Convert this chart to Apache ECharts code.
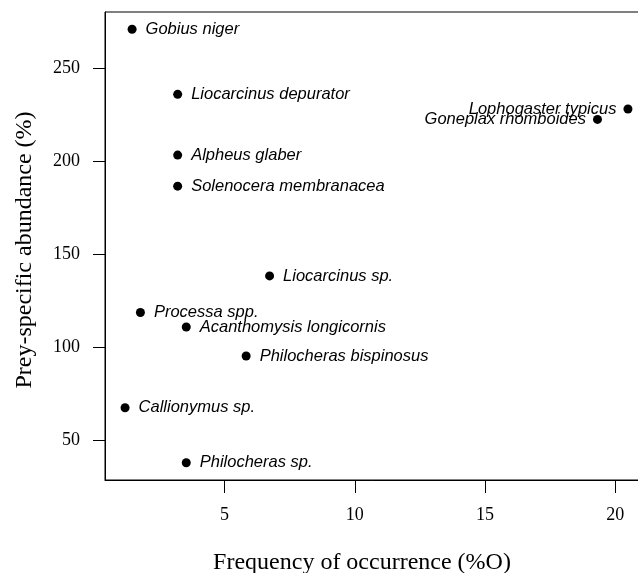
<!DOCTYPE html>
<html>
<head>
<meta charset="utf-8">
<script src="https://cdn.jsdelivr.net/npm/echarts@6/dist/echarts.min.js"></script>
<style>
html,body{margin:0;padding:0;background:#fff;}
#c{width:638px;height:573px;}
</style>
</head>
<body>
<div id="c"></div>
<script>
const species = ['Gobius niger','Liocarcinus depurator','Alpheus glaber','Solenocera membranacea','Liocarcinus sp.','Processa spp.','Acanthomysis longicornis','Philocheras bispinosus','Callionymus sp.','Philocheras sp.','Lophogaster typicus','Goneplax rhomboides'];
const freqOcc = [1.45, 3.20, 3.20, 3.20, 6.73, 1.77, 3.53, 5.83, 1.18, 3.53, 20.49, 19.32];
const preyAbund = [271.2, 236.2, 203.5, 186.8, 138.5, 118.8, 111.0, 95.4, 67.6, 38.0, 228.3, 222.7];
const xTicks = [5, 10, 15, 20];
const yTicks = [50, 100, 150, 200, 250];
const xTitle = 'Frequency of occurrence (%O)';
const yTitle = 'Prey-specific abundance (%)';

const leftLabelled = new Set(['Lophogaster typicus', 'Goneplax rhomboides']);

const data = species.map((name, i) => {
  const left = leftLabelled.has(name);
  return {
    name: name,
    value: [freqOcc[i], preyAbund[i]],
    label: { position: left ? 'left' : 'right', distance: left ? 7 : 9 }
  };
});

const chart = echarts.init(document.getElementById('c'), null, {renderer: 'canvas'});
const serif = '"Liberation Serif", "Times New Roman", serif';
chart.setOption({
  animation: false,
  backgroundColor: '#fff',
  grid: { left: 105, top: 12, width: 543, height: 468, outerBoundsMode: 'none', containLabel: false, show: true, borderColor: '#000', borderWidth: 1, backgroundColor: 'transparent' },
  xAxis: {
    type: 'value', min: 0.41, max: 21.26,
    splitLine: { show: false },
    axisLine: { show: true, onZero: false, lineStyle: { color: '#000', width: 1 } },
    axisTick: { show: true, inside: false, length: 13, customValues: xTicks, lineStyle: { color: '#000', width: 1 } },
    axisLabel: { show: true, customValues: xTicks, margin: 26, color: '#000', fontFamily: serif, fontSize: 18 }
  },
  yAxis: {
    type: 'value', min: 28.7, max: 280.5,
    splitLine: { show: false },
    axisLine: { show: true, onZero: false, lineStyle: { color: '#000', width: 1 } },
    axisTick: { show: true, inside: false, length: 12, customValues: yTicks, lineStyle: { color: '#000', width: 1 } },
    axisLabel: { show: true, customValues: yTicks, margin: 25, color: '#000', fontFamily: serif, fontSize: 18 }
  },
  series: [{
    type: 'scatter',
    symbol: 'circle',
    symbolSize: 9,
    itemStyle: { color: '#000', opacity: 1 },
    label: {
      show: true,
      formatter: p => p.name,
      color: '#000',
      fontFamily: '"Liberation Sans", Arial, sans-serif',
      fontStyle: 'italic',
      fontSize: 16.5
    },
    labelLayout: { hideOverlap: false },
    data: data
  }],
  graphic: [
    { type: 'text', x: 362, y: 563, style: { text: xTitle, fill: '#000', font: '24px "Liberation Serif"', align: 'center', verticalAlign: 'middle' } },
    { type: 'text', x: 25, y: 250, rotation: Math.PI / 2, style: { text: yTitle, fill: '#000', font: '24px "Liberation Serif"', align: 'center', verticalAlign: 'middle' } }
  ]
});
</script>
</body>
</html>
